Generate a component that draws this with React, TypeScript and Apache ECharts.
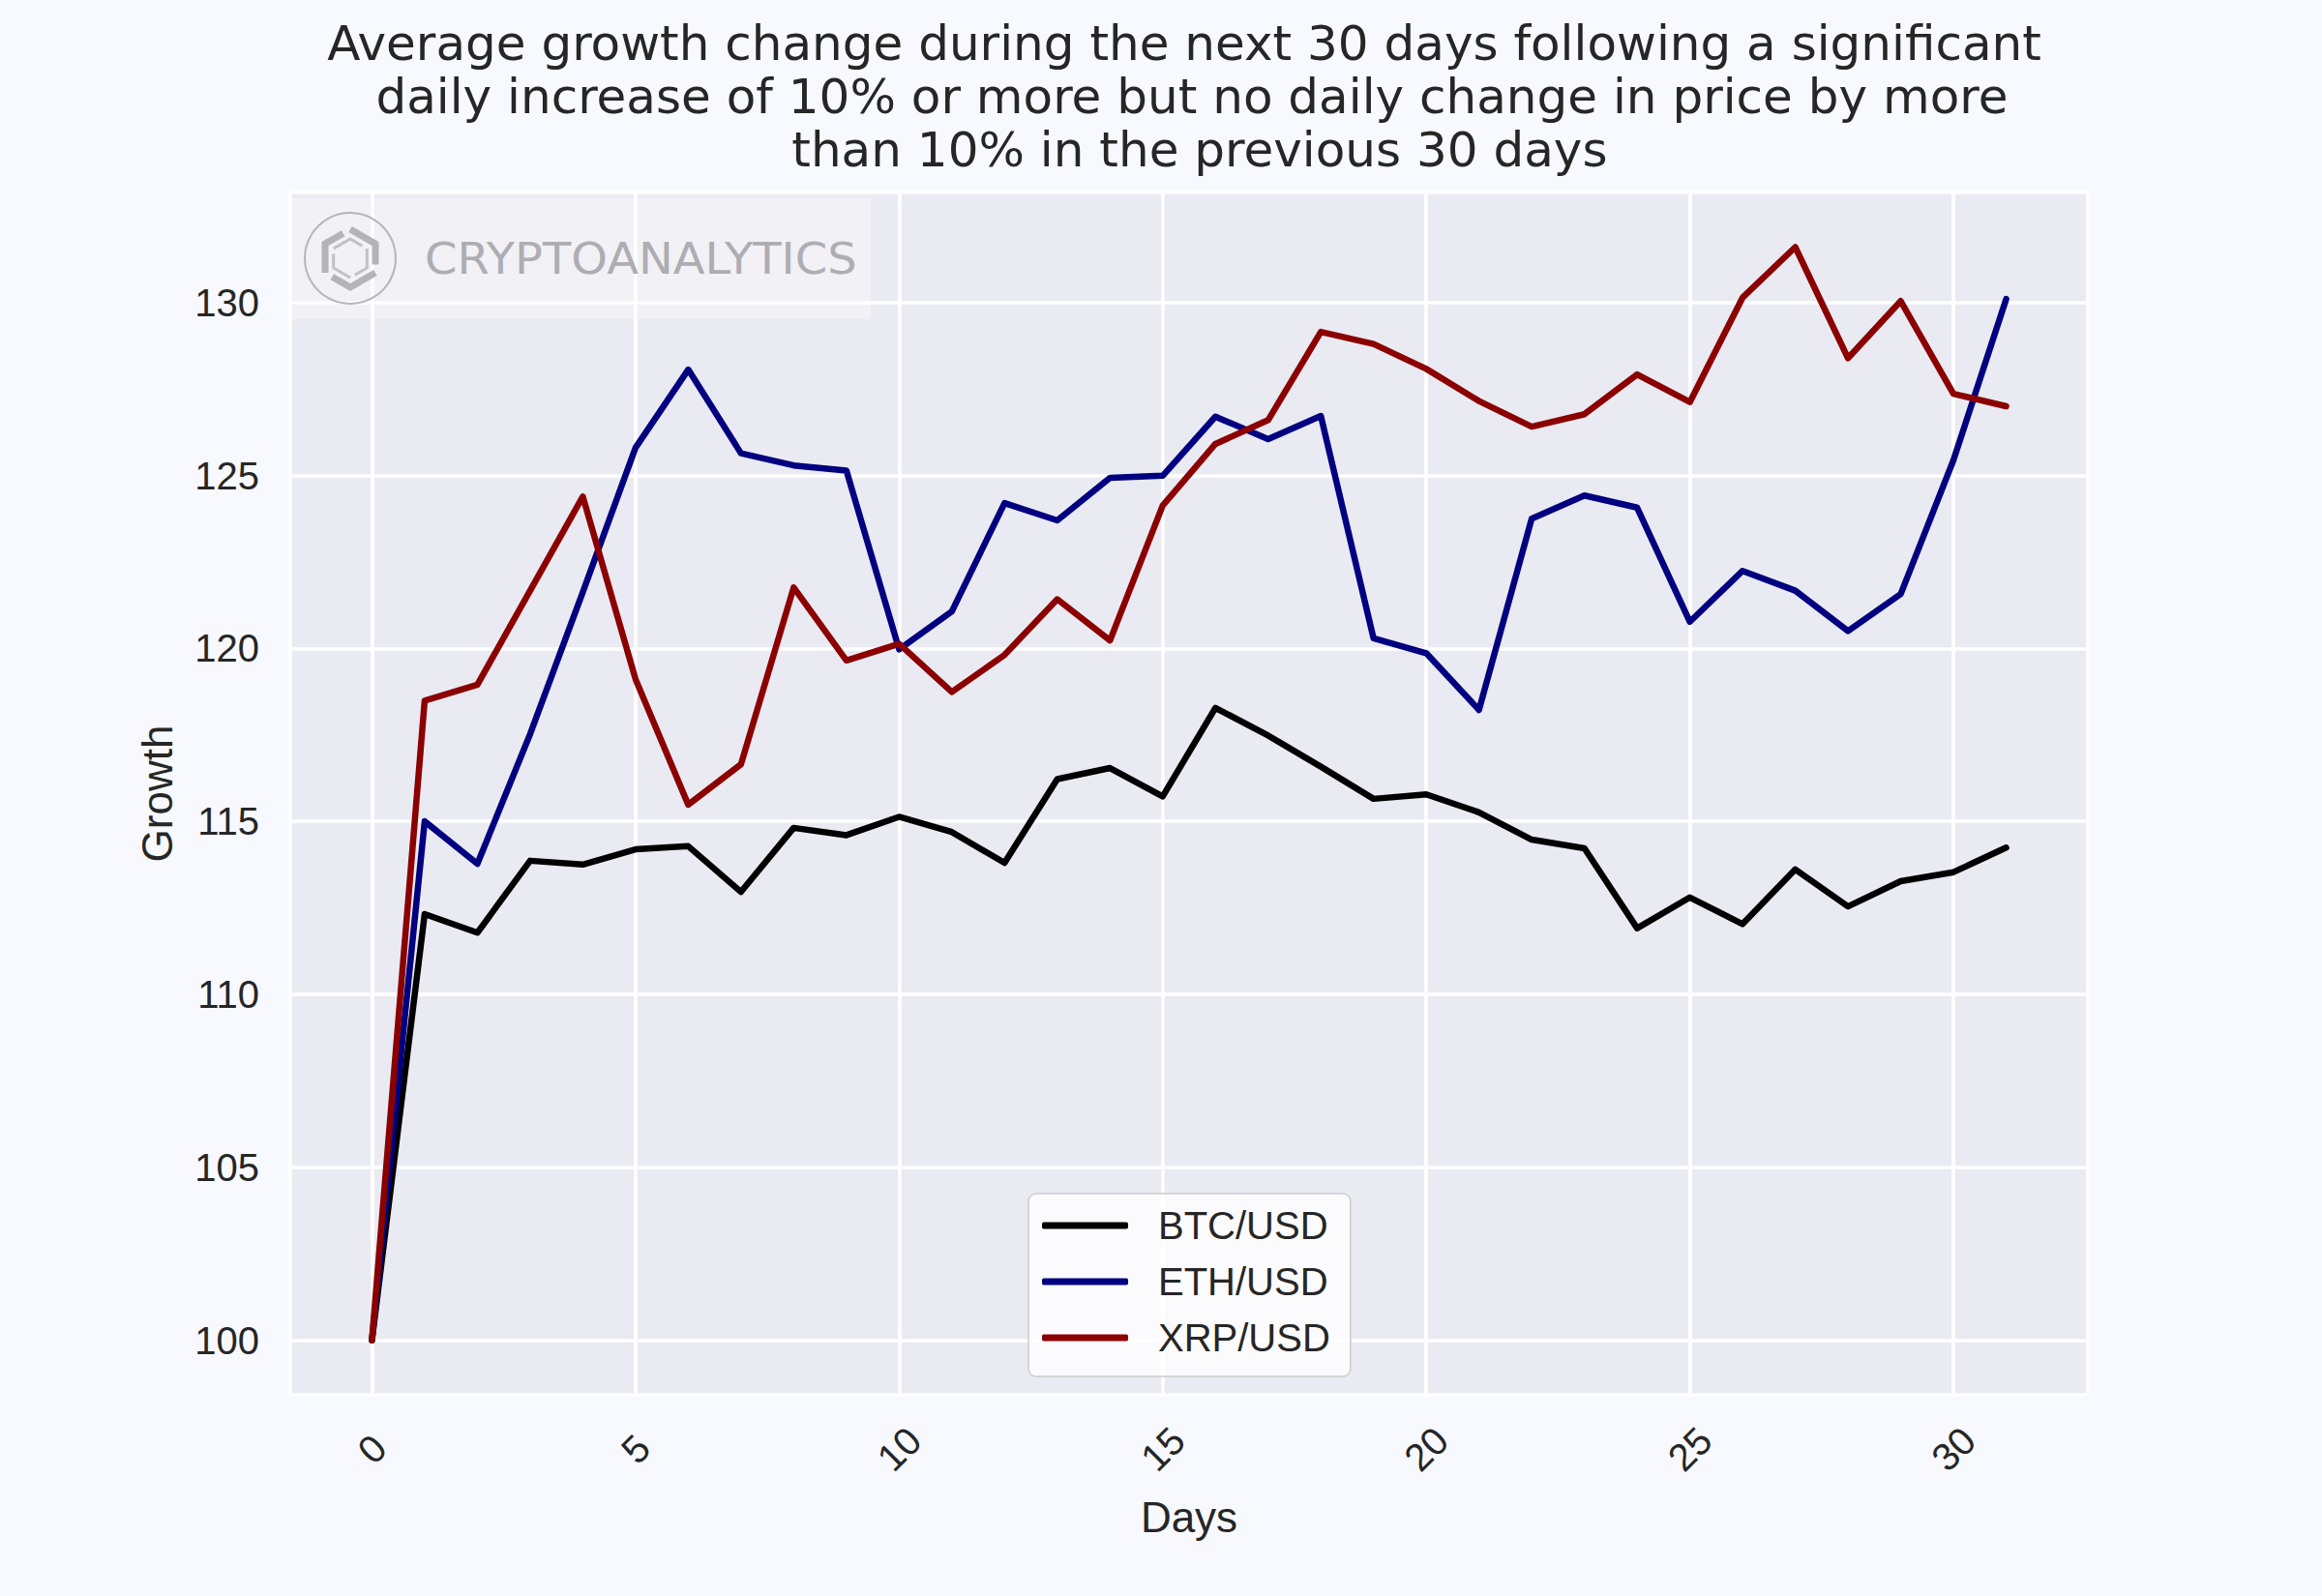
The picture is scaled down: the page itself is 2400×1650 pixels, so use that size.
import React, { useEffect, useRef } from "react";
import * as echarts from "echarts";

const days = [0, 1, 2, 3, 4, 5, 6, 7, 8, 9, 10, 11, 12, 13, 14, 15, 16, 17, 18, 19, 20, 21, 22, 23, 24, 25, 26, 27, 28, 29, 30, 31];
const btc = [100, 112.32, 111.78, 113.86, 113.75, 114.19, 114.28, 112.96, 114.81, 114.6, 115.13, 114.69, 113.8, 116.22, 116.54, 115.72, 118.28, 117.48, 116.58, 115.65, 115.78, 115.26, 114.47, 114.22, 111.91, 112.8, 112.03, 113.61, 112.54, 113.27, 113.53, 114.24];
const eth = [100, 115.0, 113.77, 117.52, 121.63, 125.8, 128.06, 125.64, 125.29, 125.14, 119.97, 121.07, 124.2, 123.7, 124.93, 124.99, 126.7, 126.05, 126.72, 120.29, 119.86, 118.22, 123.75, 124.42, 124.07, 120.77, 122.24, 121.67, 120.5, 121.57, 125.44, 130.1];
const xrp = [100, 118.49, 118.95, 121.67, 124.39, 119.11, 115.48, 116.65, 121.76, 119.65, 120.13, 118.74, 119.81, 121.42, 120.23, 124.13, 125.91, 126.6, 129.15, 128.8, 128.08, 127.15, 126.41, 126.77, 127.92, 127.12, 130.14, 131.6, 128.39, 130.04, 127.36, 127.0];
const seriesNames = ["BTC/USD", "ETH/USD", "XRP/USD"];
const seriesColors = ["#000000", "#000080", "#8B0000"];
const titleText =
  "Average growth change during the next 30 days following a significant\n daily increase of 10% or more but no daily change in price by more\n  than 10% in the previous 30 days";

const TEXT = "#262626";
const ARIAL = "'Liberation Sans', Arial, sans-serif";

export default function App() {
  const ref = useRef<HTMLDivElement>(null);
  useEffect(() => {
    document.body.style.margin = "0";
    document.body.style.overflow = "hidden";
    const chart = echarts.init(ref.current!, null, { renderer: "svg" });
    const xMin = -1.55;
    const xMax = 32.55;
    const yMin = 98.42;
    const yMax = 133.18;
    const fmt = (v: number) => (Math.abs(v - Math.round(v / 5) * 5) < 1e-6 ? String(Math.round(v)) : "");
    const allSeries = [btc, eth, xrp].map((vals, i) => ({
      name: seriesNames[i],
      type: "line",
      data: days.map((d, j) => [d, vals[j]]),
      symbol: "none",
      lineStyle: { width: 6.5, color: seriesColors[i], join: "round", cap: "round" },
      itemStyle: { color: seriesColors[i] },
      z: 3 + i,
    }));
    const cx = 362, cy = 267, R = 30;
    const part = (i: number, r: number) => {
      const p = (k: number) => {
        const a = (-90 + k * 60) * Math.PI / 180;
        return [cx + r * Math.cos(a), cy + r * Math.sin(a)];
      };
      const a = p(i), b = p(i + 1), c = p(i + 2);
      const e = [b[0] + (c[0] - b[0]) * 0.72, b[1] + (c[1] - b[1]) * 0.72];
      return [a, b, e];
    };
    chart.setOption({
      animation: false,
      backgroundColor: "#F8F9FE",
      grid: { left: 300, right: 242, top: 199, bottom: 208, show: true, backgroundColor: "#EAEAF2", borderWidth: 0 },
      xAxis: {
        type: "value",
        min: xMin,
        max: xMax,
        name: "Days",
        nameLocation: "middle",
        nameGap: 104,
        nameTextStyle: { fontSize: 44, color: TEXT, fontFamily: ARIAL },
        axisLine: { show: false },
        axisTick: { show: false },
        splitLine: { show: true, lineStyle: { color: "#FFFFFF", width: 3.6 } },
        axisLabel: {
          formatter: fmt,
          rotate: 45,
          align: "center",
          verticalAlign: "middle",
          margin: 56,
          fontSize: 40,
          color: TEXT,
          fontFamily: ARIAL,
          showMinLabel: false,
          showMaxLabel: false,
        },
      },
      yAxis: {
        type: "value",
        min: yMin,
        max: yMax,
        name: "Growth",
        nameLocation: "middle",
        nameGap: 116,
        nameTextStyle: { fontSize: 44, color: TEXT, fontFamily: ARIAL },
        axisLine: { show: false },
        axisTick: { show: false },
        splitLine: { show: true, lineStyle: { color: "#FFFFFF", width: 3.6 } },
        axisLabel: {
          formatter: fmt,
          margin: 32,
          fontSize: 40,
          color: TEXT,
          fontFamily: ARIAL,
          showMinLabel: false,
          showMaxLabel: false,
        },
      },
      legend: {
        data: seriesNames,
        orient: "vertical",
        left: 1063,
        top: 1234,
        icon: "roundRect",
        itemWidth: 89,
        itemHeight: 7,
        itemGap: 14,
        padding: [11, 21, 18, 14],
        backgroundColor: "rgba(255,255,255,0.8)",
        borderColor: "#CCCCCC",
        borderWidth: 1.5,
        borderRadius: 8,
        textStyle: { fontSize: 40, color: TEXT, fontFamily: ARIAL, lineHeight: 44, padding: [0, 0, 0, 26] },
      },
      graphic: [
        {
          type: "text",
          x: 1224,
          y: 17,
          style: {
            text: titleText,
            fontSize: 50,
            lineHeight: 55,
            fontFamily: "'DejaVu Sans', sans-serif",
            fill: TEXT,
            align: "center",
            verticalAlign: "top",
          },
          z: 10,
        },
        {
          type: "rect",
          shape: { x: 300, y: 205, width: 600, height: 125 },
          style: { fill: "rgba(255,255,255,0.35)" },
          z: 1,
        },
        {
          type: "circle",
          shape: { cx: cx, cy: cy, r: 47 },
          style: { fill: "none", stroke: "#B5B5BA", lineWidth: 2 },
          z: 2,
        },
        ...[0, 2, 4].map((i) => ({
          type: "polyline",
          shape: { points: part(i, R) },
          style: { fill: "none", stroke: "#B3B3B8", lineWidth: 7, lineJoin: "miter" },
          z: 2,
        })),
        ...[1, 3, 5].map((i) => ({
          type: "polyline",
          shape: { points: part(i, 20) },
          style: { fill: "none", stroke: "#C0C0C5", lineWidth: 3, lineJoin: "miter" },
          z: 2,
        })),
        {
          type: "text",
          x: 439,
          y: 268,
          scaleX: 1.09,
          style: {
            text: "CRYPTOANALYTICS",
            fontSize: 44,
            fontWeight: "normal",
            fontFamily: "'DejaVu Sans', sans-serif",
            fill: "#ADADB3",
            align: "left",
            verticalAlign: "middle",
          },
          z: 2,
        },
      ],
      series: allSeries,
    });
    return () => chart.dispose();
  }, []);
  return <div ref={ref} style={{ width: 2400, height: 1650 }} />;
}
